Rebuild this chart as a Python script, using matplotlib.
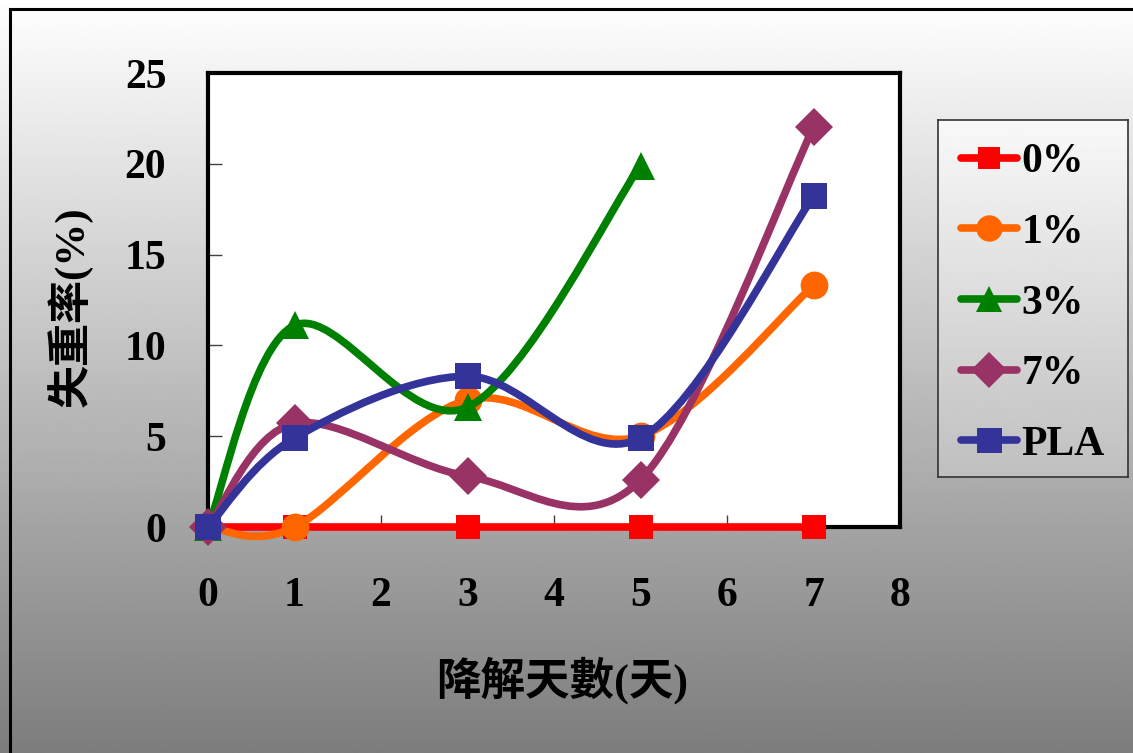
import numpy as np
import matplotlib.pyplot as plt
from matplotlib.path import Path
from matplotlib.patches import PathPatch, Rectangle
from matplotlib.lines import Line2D

# Datos: pérdida de peso (%) vs días de degradación
dias = [0, 1, 3, 5, 7]
dias_3 = [0, 1, 3, 5]          # la serie 3% no tiene dato en el día 7
perdida_0 = [0, 0, 0, 0, 0]
perdida_1 = [0, 0, 7.0, 5.0, 13.3]
perdida_3 = [0, 11.1, 6.6, 19.9]
perdida_7 = [0, 5.7, 2.8, 2.6, 22.0]
perdida_pla = [0, 4.9, 8.3, 4.9, 18.2]
nombres = ['0%', '1%', '3%', '7%', 'PLA']

colores = ['#ff0000', '#ff6600', '#008000', '#993366', '#333399']
marcadores = ['s', 'o', '^', 'D', 's']
tam_marc = [17, 20, 20, 19, 19]

xticks = [0, 1, 2, 3, 4, 5, 6, 7, 8]
yticks = [0, 5, 10, 15, 20, 25]

SERIF = 'Liberation Serif'
CJK = ['Liberation Serif', 'Noto Sans CJK TC', 'DejaVu Sans']


def curva_suave(x, y):
    # linea suavizada tipo Excel (Catmull-Rom -> Bezier cubica)
    p = np.column_stack([x, y]).astype(float)
    ext = np.vstack([p[0], p, p[-1]])
    verts = [p[0]]
    codes = [Path.MOVETO]
    for i in range(len(p) - 1):
        c1 = ext[i + 1] + (ext[i + 2] - ext[i]) / 6
        c2 = ext[i + 2] - (ext[i + 3] - ext[i + 1]) / 6
        verts += [c1, c2, ext[i + 2]]
        codes += [Path.CURVE4] * 3
    return Path(verts, codes)


W, H = 1133, 753
fig = plt.figure(figsize=(W / 100, H / 100), dpi=100)

# fondo degradado blanco -> gris
bg = fig.add_axes([0, 0, 1, 1], zorder=-5)
grad = np.linspace(1.0, 0.49, 256).reshape(-1, 1)
bg.imshow(grad, cmap='gray', vmin=0, vmax=1, aspect='auto', extent=[0, 1, 0, 1])
bg.set_axis_off()
fig.patches.append(Rectangle((10 / W, -0.2), 1.5, 1.2 - 10 / H + 0.001,
                             transform=fig.transFigure, fill=False,
                             edgecolor='black', linewidth=2.2, zorder=-1))

ax = fig.add_axes([208 / W, 1 - 527 / H, 692 / W, 454 / H])
ax.set_facecolor('white')

series = [(dias, perdida_0), (dias, perdida_1), (dias_3, perdida_3),
          (dias, perdida_7), (dias, perdida_pla)]
for i, (x, y) in enumerate(series):
    patch = PathPatch(curva_suave(x, y), fill=False, edgecolor=colores[i],
                      linewidth=5.5, capstyle='round', joinstyle='round',
                      zorder=3 + 2 * i, clip_on=False)
    ax.add_patch(patch)
    ax.plot(x, y, linestyle='none', marker=marcadores[i], markersize=tam_marc[i],
            color=colores[i], markeredgewidth=0, zorder=4 + 2 * i, clip_on=False)

ax.set_xlim(0, 8)
ax.set_ylim(0, 25)
ax.set_xticks(xticks)
ax.set_yticks(yticks)
ax.tick_params(axis='x', direction='in', length=9, width=1, color='#404040', pad=36)
ax.tick_params(axis='y', direction='in', length=10, width=1, color='#404040', pad=30)
for lab in ax.get_xticklabels() + ax.get_yticklabels():
    lab.set_fontfamily(SERIF)
    lab.set_fontweight('bold')
    lab.set_fontsize(30)
for s in ax.spines.values():
    s.set_linewidth(3)
    s.set_color('black')

fig.text(562 / W, 1 - 680 / H, '降解天數(天)', family=CJK, fontweight='bold',
         fontsize=32, ha='center', va='center')
fig.text(70 / W, 1 - 307 / H, '失重率(%)', family=CJK, fontweight='bold',
         fontsize=31, ha='center', va='center', rotation=90)

# caja de la leyenda con degradado
lax = fig.add_axes([938 / W, 1 - 477 / H, 190 / W, 357 / H])
lgrad = np.linspace(0.975, 0.75, 256).reshape(-1, 1)
lax.imshow(lgrad, cmap='gray', vmin=0, vmax=1, aspect='auto', extent=[0, 1, 0, 1])
lax.set_xticks([])
lax.set_yticks([])
for s in lax.spines.values():
    s.set_linewidth(1.2)
    s.set_color('#333333')

handles = [Line2D([], [], color=colores[i], linewidth=5.5, solid_capstyle='round',
                  marker=marcadores[i], markersize=tam_marc[i] - 1, markeredgewidth=0)
           for i in range(len(nombres))]
leg = lax.legend(handles, nombres, loc='center', bbox_to_anchor=(0.5, 0.486),
                 frameon=False, handlelength=1.35, handletextpad=0.1,
                 labelspacing=0.78, prop={'family': SERIF, 'weight': 'bold', 'size': 30})

fig.savefig('out.png', dpi=100)
